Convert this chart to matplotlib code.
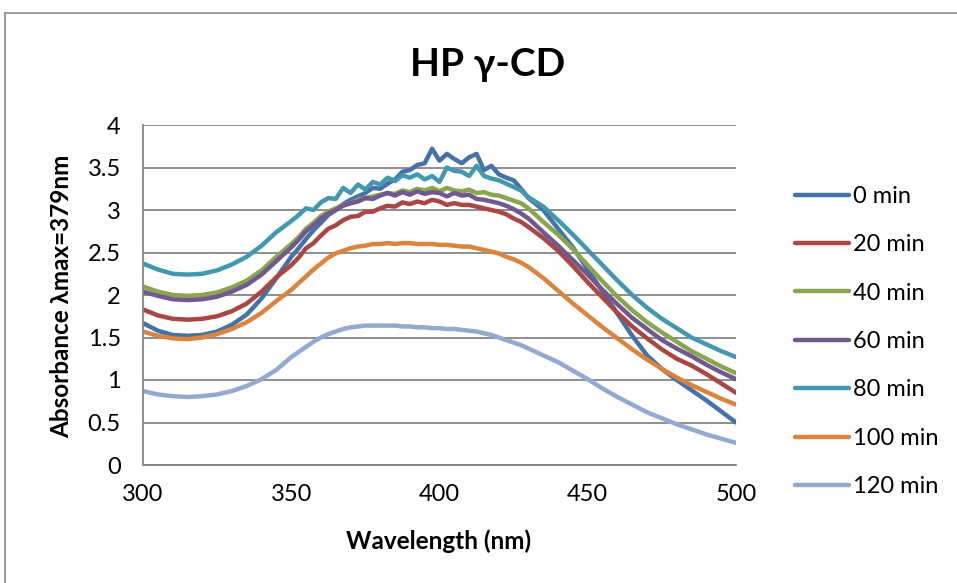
import numpy as np
import matplotlib
matplotlib.use("Agg")
from matplotlib import pyplot as plt
from matplotlib.lines import Line2D

# Lato stands in for Calibri, DejaVu picks up the greek letters if needed
plt.rcParams['font.family'] = ['Lato', 'DejaVu Sans']

# wavelength grid (nm) -- denser in the noisy middle part of the spectra
wavelength = [300, 305, 310, 315, 320, 325, 330, 335, 340, 345,
              350, 352.5, 355, 357.5, 360, 362.5, 365, 367.5, 370, 372.5,
              375, 377.5, 380, 382.5, 385, 387.5, 390, 392.5, 395, 397.5,
              400, 402.5, 405, 407.5, 410, 412.5, 415, 417.5, 420, 422.5,
              425, 427.5, 430,
              435, 440, 445, 450, 455, 460, 465, 470, 475, 480, 485, 490, 495, 500]

# absorbance, one list per irradiation time
abs0 = [1.67, 1.58, 1.53, 1.52, 1.53, 1.57, 1.65, 1.77, 1.96, 2.20,
        2.45, 2.55, 2.66, 2.76, 2.85, 2.94, 3.00, 3.07, 3.12, 3.16,
        3.20, 3.26, 3.25, 3.31, 3.36, 3.45, 3.47, 3.53, 3.55, 3.72,
        3.58, 3.66, 3.60, 3.55, 3.62, 3.66, 3.47, 3.52, 3.42, 3.38,
        3.35, 3.25, 3.14,
        3.00, 2.78, 2.56, 2.30, 2.04, 1.78, 1.52, 1.29, 1.13, 1.00, 0.88, 0.76, 0.63, 0.50]
abs20 = [1.83, 1.76, 1.72, 1.71, 1.72, 1.75, 1.81, 1.90, 2.04, 2.21,
         2.35, 2.44, 2.55, 2.61, 2.70, 2.78, 2.82, 2.88, 2.92, 2.93,
         2.98, 2.98, 3.02, 3.05, 3.04, 3.09, 3.07, 3.10, 3.08, 3.12,
         3.10, 3.06, 3.08, 3.06, 3.06, 3.04, 3.02, 3.00, 2.98, 2.95,
         2.90, 2.86, 2.80,
         2.67, 2.52, 2.34, 2.15, 1.97, 1.79, 1.63, 1.49, 1.36, 1.25, 1.17, 1.07, 0.96, 0.85]
abs40 = [2.10, 2.04, 2.00, 1.99, 2.00, 2.03, 2.09, 2.17, 2.29, 2.45,
         2.60, 2.68, 2.78, 2.85, 2.93, 2.98, 3.02, 3.06, 3.08, 3.12,
         3.14, 3.16, 3.18, 3.20, 3.19, 3.23, 3.21, 3.25, 3.23, 3.26,
         3.22, 3.26, 3.23, 3.22, 3.24, 3.20, 3.21, 3.18, 3.17, 3.14,
         3.11, 3.08, 3.02,
         2.86, 2.71, 2.54, 2.35, 2.16, 1.98, 1.82, 1.68, 1.56, 1.45, 1.34, 1.25, 1.16, 1.08]
abs60 = [2.04, 1.99, 1.95, 1.94, 1.95, 1.98, 2.04, 2.12, 2.24, 2.40,
         2.56, 2.65, 2.75, 2.82, 2.90, 2.96, 3.00, 3.05, 3.08, 3.10,
         3.14, 3.13, 3.17, 3.20, 3.17, 3.21, 3.18, 3.22, 3.19, 3.21,
         3.20, 3.16, 3.20, 3.17, 3.18, 3.13, 3.12, 3.10, 3.08, 3.05,
         3.01, 2.96, 2.90,
         2.74, 2.58, 2.41, 2.24, 2.06, 1.89, 1.73, 1.60, 1.47, 1.37, 1.28, 1.18, 1.09, 1.01]
abs80 = [2.37, 2.30, 2.25, 2.24, 2.25, 2.29, 2.36, 2.45, 2.58, 2.74,
         2.87, 2.94, 3.02, 3.00, 3.09, 3.14, 3.13, 3.26, 3.20, 3.30,
         3.24, 3.33, 3.30, 3.38, 3.34, 3.41, 3.38, 3.42, 3.36, 3.40,
         3.33, 3.50, 3.46, 3.45, 3.40, 3.52, 3.40, 3.37, 3.35, 3.31,
         3.27, 3.23, 3.15,
         3.04, 2.88, 2.71, 2.53, 2.35, 2.17, 2.00, 1.85, 1.72, 1.61, 1.50, 1.42, 1.34, 1.27]
abs100 = [1.57, 1.52, 1.49, 1.48, 1.50, 1.54, 1.60, 1.68, 1.79, 1.93,
          2.06, 2.14, 2.22, 2.30, 2.37, 2.44, 2.49, 2.52, 2.55, 2.57,
          2.58, 2.60, 2.60, 2.61, 2.60, 2.61, 2.61, 2.60, 2.60, 2.60,
          2.59, 2.59, 2.58, 2.57, 2.57, 2.55, 2.53, 2.51, 2.49, 2.45,
          2.42, 2.38, 2.33,
          2.20, 2.05, 1.90, 1.76, 1.62, 1.49, 1.36, 1.24, 1.13, 1.03, 0.94, 0.86, 0.78, 0.71]
abs120 = [0.87, 0.83, 0.81, 0.80, 0.81, 0.83, 0.87, 0.93, 1.01, 1.12,
          1.27, 1.33, 1.39, 1.45, 1.50, 1.54, 1.57, 1.60, 1.62, 1.63,
          1.64, 1.64, 1.64, 1.64, 1.64, 1.63, 1.63, 1.62, 1.62, 1.61,
          1.61, 1.60, 1.60, 1.59, 1.58, 1.57, 1.55, 1.53, 1.50, 1.47,
          1.44, 1.41, 1.37,
          1.29, 1.21, 1.11, 1.01, 0.90, 0.80, 0.71, 0.62, 0.55, 0.48, 0.42, 0.36, 0.31, 0.26]

seriesLabels = ["0 min", "20 min", "40 min", "60 min", "80 min", "100 min", "120 min"]
seriesValues = [abs0, abs20, abs40, abs60, abs80, abs100, abs120]
# old Excel 2007 line palette
seriesColors = ["#4572A7", "#AA4643", "#89A54E", "#71588F", "#4198AF", "#DB843D", "#93A9CF"]

xTicks = [300, 350, 400, 450, 500]
yTicks = [0, 0.5, 1, 1.5, 2, 2.5, 3, 3.5, 4]

W, H = 957, 583
gridColor = "#868686"
fontSize = 17
labelSize = 17.5

fig = plt.figure(figsize=(W / 100, H / 100), dpi=100)
# plot area in pixels: x 143..736, y 125..465
ax = fig.add_axes([143 / W, 1 - 465 / H, (736 - 143) / W, (465 - 125) / H])

for vals, name, color in zip(seriesValues, seriesLabels, seriesColors):
    ax.plot(wavelength, vals, color=color, lw=3.2, label=name,
            solid_capstyle="round", solid_joinstyle="round")

ax.set_xlim(300, 500)
ax.set_ylim(0, 4)
ax.set_xticks(xTicks)
ax.set_yticks(yTicks)
ax.set_yticklabels(["{:g}".format(v) for v in yTicks])
ax.grid(axis="y", color=gridColor, lw=1.3)
ax.set_axisbelow(True)
for side in ["top", "right"]:
    ax.spines[side].set_visible(False)
for side in ["left", "bottom"]:
    ax.spines[side].set_color(gridColor)
    ax.spines[side].set_linewidth(1.3)
ax.tick_params(axis="both", length=0, labelsize=fontSize)
ax.tick_params(axis="x", pad=14)
ax.tick_params(axis="y", pad=16)

# titles placed in figure coords to match the excel layout
fig.text(488 / W, 1 - 65 / H, "HP γ-CD", ha="center", va="center",
         fontsize=28, fontweight="bold")
fig.text(62 / W, 1 - 296 / H, "Absorbance λmax=379nm", rotation=90,
         ha="center", va="center", fontsize=labelSize, fontweight="bold")
fig.text(439 / W, 1 - 541 / H, "Wavelength (nm)", ha="center", va="center",
         fontsize=labelSize, fontweight="bold")

fig.legend(loc="center left", bbox_to_anchor=(795 / W, 1 - 341.5 / H),
           frameon=False, fontsize=fontSize, handlelength=2.3,
           handletextpad=0.15, labelspacing=1.16, borderpad=0, borderaxespad=0)

# chart-area border (runs off the right and bottom of the picture)
fig.add_artist(Line2D([4.5 / W, 4.5 / W], [0, 1 - 12.5 / H], transform=fig.transFigure,
                      color="#8c8c8c", lw=1.2))
fig.add_artist(Line2D([4.5 / W, 1], [1 - 12.5 / H, 1 - 12.5 / H], transform=fig.transFigure,
                      color="#8c8c8c", lw=1.2))

fig.savefig("out.png", dpi=100)
